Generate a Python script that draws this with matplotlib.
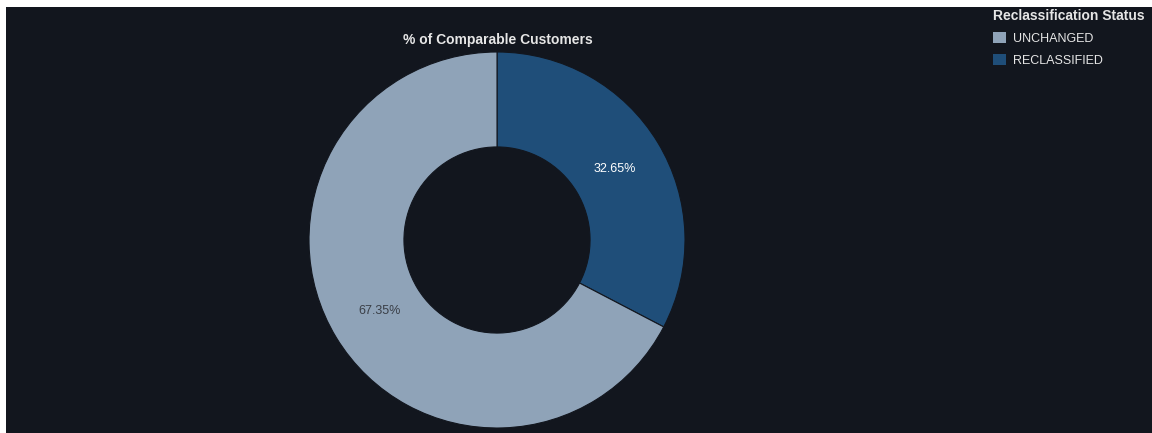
import matplotlib.pyplot as plt
from matplotlib.patches import Patch, Rectangle

# share of comparable customers by reclassification status
statuses = ['UNCHANGED', 'RECLASSIFIED']
shares = [67.35, 32.65]
colors = ['#8fa3b8', '#1f4e79']
label_colors = ['#3a3f47', '#ffffff']

plt.rcParams['font.family'] = ['Liberation Sans', 'DejaVu Sans']

W, H = 1152, 433
fig = plt.figure(figsize=(W / 100, H / 100), dpi=100)
fig.patch.set_facecolor('white')

# dark panel, leaving a thin white strip on the left and top
bg = '#12161e'
fig.patches.append(Rectangle((6 / W, 0), 1 - 6 / W, 1 - 7 / H,
                             transform=fig.transFigure, facecolor=bg,
                             edgecolor='none', zorder=-10))

# donut axes centred at (497, 240) px with radius 188 px
cx, cy, r = 497, H - 240, 188
ax = fig.add_axes([(cx - r) / W, (cy - r) / H, 2 * r / W, 2 * r / H])
ax.set_facecolor('none')

# draw reclassified first so it starts at 12 o'clock going clockwise
order = [1, 0]
wedges, texts, autotexts = ax.pie(
    [shares[i] for i in order],
    colors=[colors[i] for i in order],
    startangle=90, counterclock=False,
    autopct='%.2f%%', pctdistance=0.73,
    wedgeprops=dict(width=0.505, edgecolor=bg, linewidth=0.8),
    textprops=dict(fontsize=9),
)
for t, i in zip(autotexts, order):
    t.set_color(label_colors[i])
ax.set_xlim(-1, 1)
ax.set_ylim(-1, 1)
ax.set_aspect('equal')

fig.text(498 / W, 1 - 40 / H, '% of Comparable Customers', ha='center',
         va='center', fontsize=10, fontweight='bold', color='#e6e6e6')

handles = [Patch(facecolor=c, edgecolor='none') for c in colors]
leg = fig.legend(handles, statuses, title='Reclassification Status',
                 loc='upper left', bbox_to_anchor=(993 / W, 1 - 9 / H),
                 frameon=False, fontsize=9, handlelength=1.0,
                 handleheight=1.0, handletextpad=0.6, labelspacing=0.72,
                 borderaxespad=0, borderpad=0, alignment='left')
leg.get_title().set_fontweight('bold')
leg.get_title().set_color('#e6e6e6')
leg.get_title().set_fontsize(10)
for t in leg.get_texts():
    t.set_color('#e6e6e6')

fig.savefig('out.png', dpi=100, facecolor=fig.get_facecolor())
